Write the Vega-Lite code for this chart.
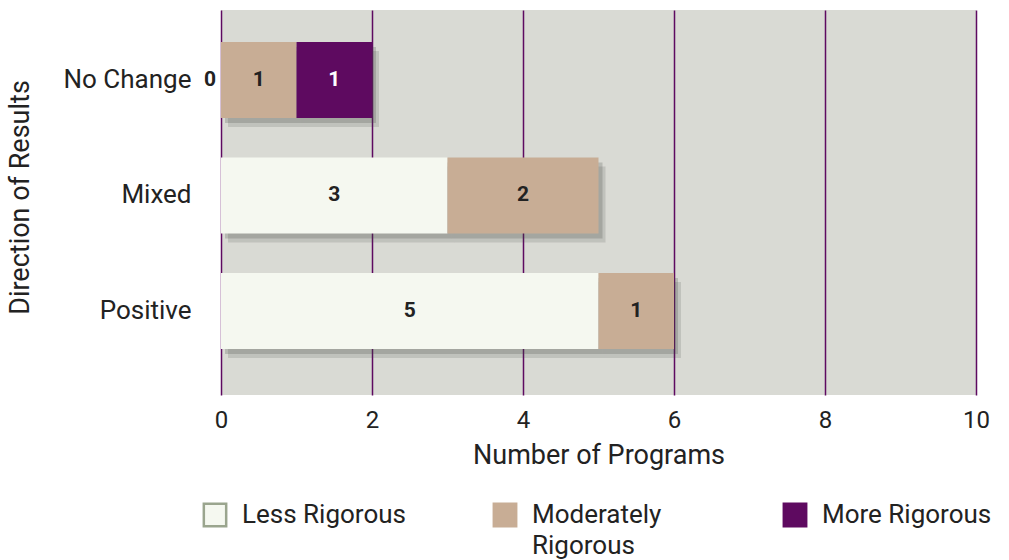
{
  "$schema": "https://vega.github.io/schema/vega-lite/v6.json",
  "width": 755,
  "height": 385,
  "autosize": "none",
  "padding": {"left": 221, "top": 10, "right": 33, "bottom": 165},
  "background": "white",
  "config": {
    "font": "Roboto",
    "view": {"fill": "#d9dad4", "stroke": null}
  },
  "data": {
    "values": [
      {"direction": "No Change", "rigor": "Less Rigorous", "order": 1, "programs": 0},
      {"direction": "No Change", "rigor": "Moderately Rigorous", "order": 2, "programs": 1},
      {"direction": "No Change", "rigor": "More Rigorous", "order": 3, "programs": 1},
      {"direction": "Mixed", "rigor": "Less Rigorous", "order": 1, "programs": 3},
      {"direction": "Mixed", "rigor": "Moderately Rigorous", "order": 2, "programs": 2},
      {"direction": "Positive", "rigor": "Less Rigorous", "order": 1, "programs": 5},
      {"direction": "Positive", "rigor": "Moderately Rigorous", "order": 2, "programs": 1}
    ]
  },
  "transform": [
    {"stack": "programs", "groupby": ["direction"], "sort": [{"field": "order"}], "as": ["x0", "x1"]},
    {"calculate": "(datum.x0 + datum.x1) / 2", "as": "xm"}
  ],
  "encoding": {
    "y": {
      "field": "direction",
      "type": "nominal",
      "sort": ["No Change", "Mixed", "Positive"],
      "scale": {"paddingInner": 0.342, "paddingOuter": 0.338, "align": 0.41},
      "axis": {
        "title": "Direction of Results",
        "titleFontSize": 27,
        "titleFontWeight": "normal",
        "titleColor": "#222",
        "titleX": -201,
        "titleY": 187,
        "titleAngle": 270,
        "titleBaseline": "middle",
        "labelFontSize": 26,
        "labelColor": "#222",
        "labelPadding": 30,
        "ticks": false,
        "domain": false
      }
    }
  },
  "layer": [
    {
      "transform": [{"filter": "datum.programs > 0"}],
      "mark": {"type": "bar", "color": "#3f4540", "opacity": 0.16, "xOffset": 7, "x2Offset": 7, "yOffset": 9, "y2Offset": 9},
      "encoding": {
        "x": {"field": "x0", "type": "quantitative"},
        "x2": {"field": "x1"}
      }
    },
    {
      "transform": [{"filter": "datum.programs > 0"}],
      "mark": {"type": "bar", "color": "#3f4540", "opacity": 0.22, "xOffset": 4, "x2Offset": 4, "yOffset": 5, "y2Offset": 5},
      "encoding": {
        "x": {"field": "x0", "type": "quantitative"},
        "x2": {"field": "x1"}
      }
    },
    {
      "transform": [{"filter": "datum.programs > 0"}],
      "mark": {"type": "bar"},
      "encoding": {
        "x": {
          "field": "x0",
          "type": "quantitative",
          "scale": {"domain": [0, 10]},
          "axis": {
            "title": "Number of Programs",
            "titleFontSize": 27,
            "titleFontWeight": "normal",
            "titleColor": "#222",
            "titlePadding": 10,
            "values": [0, 2, 4, 6, 8, 10],
            "format": "d",
            "labelFlush": false,
            "labelFontSize": 24,
            "labelColor": "#222",
            "labelPadding": 13,
            "ticks": false,
            "domain": false,
            "grid": true,
            "gridColor": "#5e0a60",
            "gridWidth": 1.5,
            "gridOpacity": 1
          }
        },
        "x2": {"field": "x1"},
        "color": {
          "field": "rigor",
          "type": "nominal",
          "scale": {
            "domain": ["Less Rigorous", "Moderately Rigorous", "More Rigorous"],
            "range": ["#f5f8f0", "#c8ad95", "#5e0a60"]
          },
          "legend": {
            "title": null,
            "orient": "none",
            "legendX": -19,
            "legendY": 492,
            "direction": "horizontal",
            "columns": 3,
            "gridAlign": "all",
            "columnPadding": 76,
            "padding": 0,
            "symbolType": "square",
            "symbolSize": 500,
            "symbolStrokeWidth": 2.5,
            "labelFontSize": 26,
            "labelColor": "#222",
            "labelOffset": 14,
            "labelLimit": 300,
            "labelBaseline": "top",
            "labelExpr": "datum.label == 'Moderately Rigorous' ? ['Moderately', 'Rigorous'] : [datum.label, '']",
            "encode": {
              "symbols": {"update": {"stroke": {"signal": "datum.value == 'Less Rigorous' ? '#9aa58e' : datum.value == 'Moderately Rigorous' ? '#c8ad95' : '#5e0a60'"}}},
              "labels": {"update": {"dy": {"value": -13}, "lineHeight": {"value": 31}}}
            }
          }
        }
      }
    },
    {
      "transform": [{"filter": "datum.programs > 0"}],
      "mark": {"type": "text", "fontSize": 21, "fontWeight": "bold"},
      "encoding": {
        "x": {"field": "xm", "type": "quantitative"},
        "text": {"field": "programs", "type": "quantitative"},
        "color": {
          "condition": {"test": "datum.rigor == 'More Rigorous'", "value": "white"},
          "value": "#222"
        }
      }
    },
    {
      "transform": [{"filter": "datum.programs == 0"}],
      "mark": {"type": "text", "fontSize": 21, "fontWeight": "bold", "align": "right", "dx": -5, "color": "#222"},
      "encoding": {
        "x": {"field": "x0", "type": "quantitative"},
        "text": {"field": "programs", "type": "quantitative"}
      }
    }
  ]
}
